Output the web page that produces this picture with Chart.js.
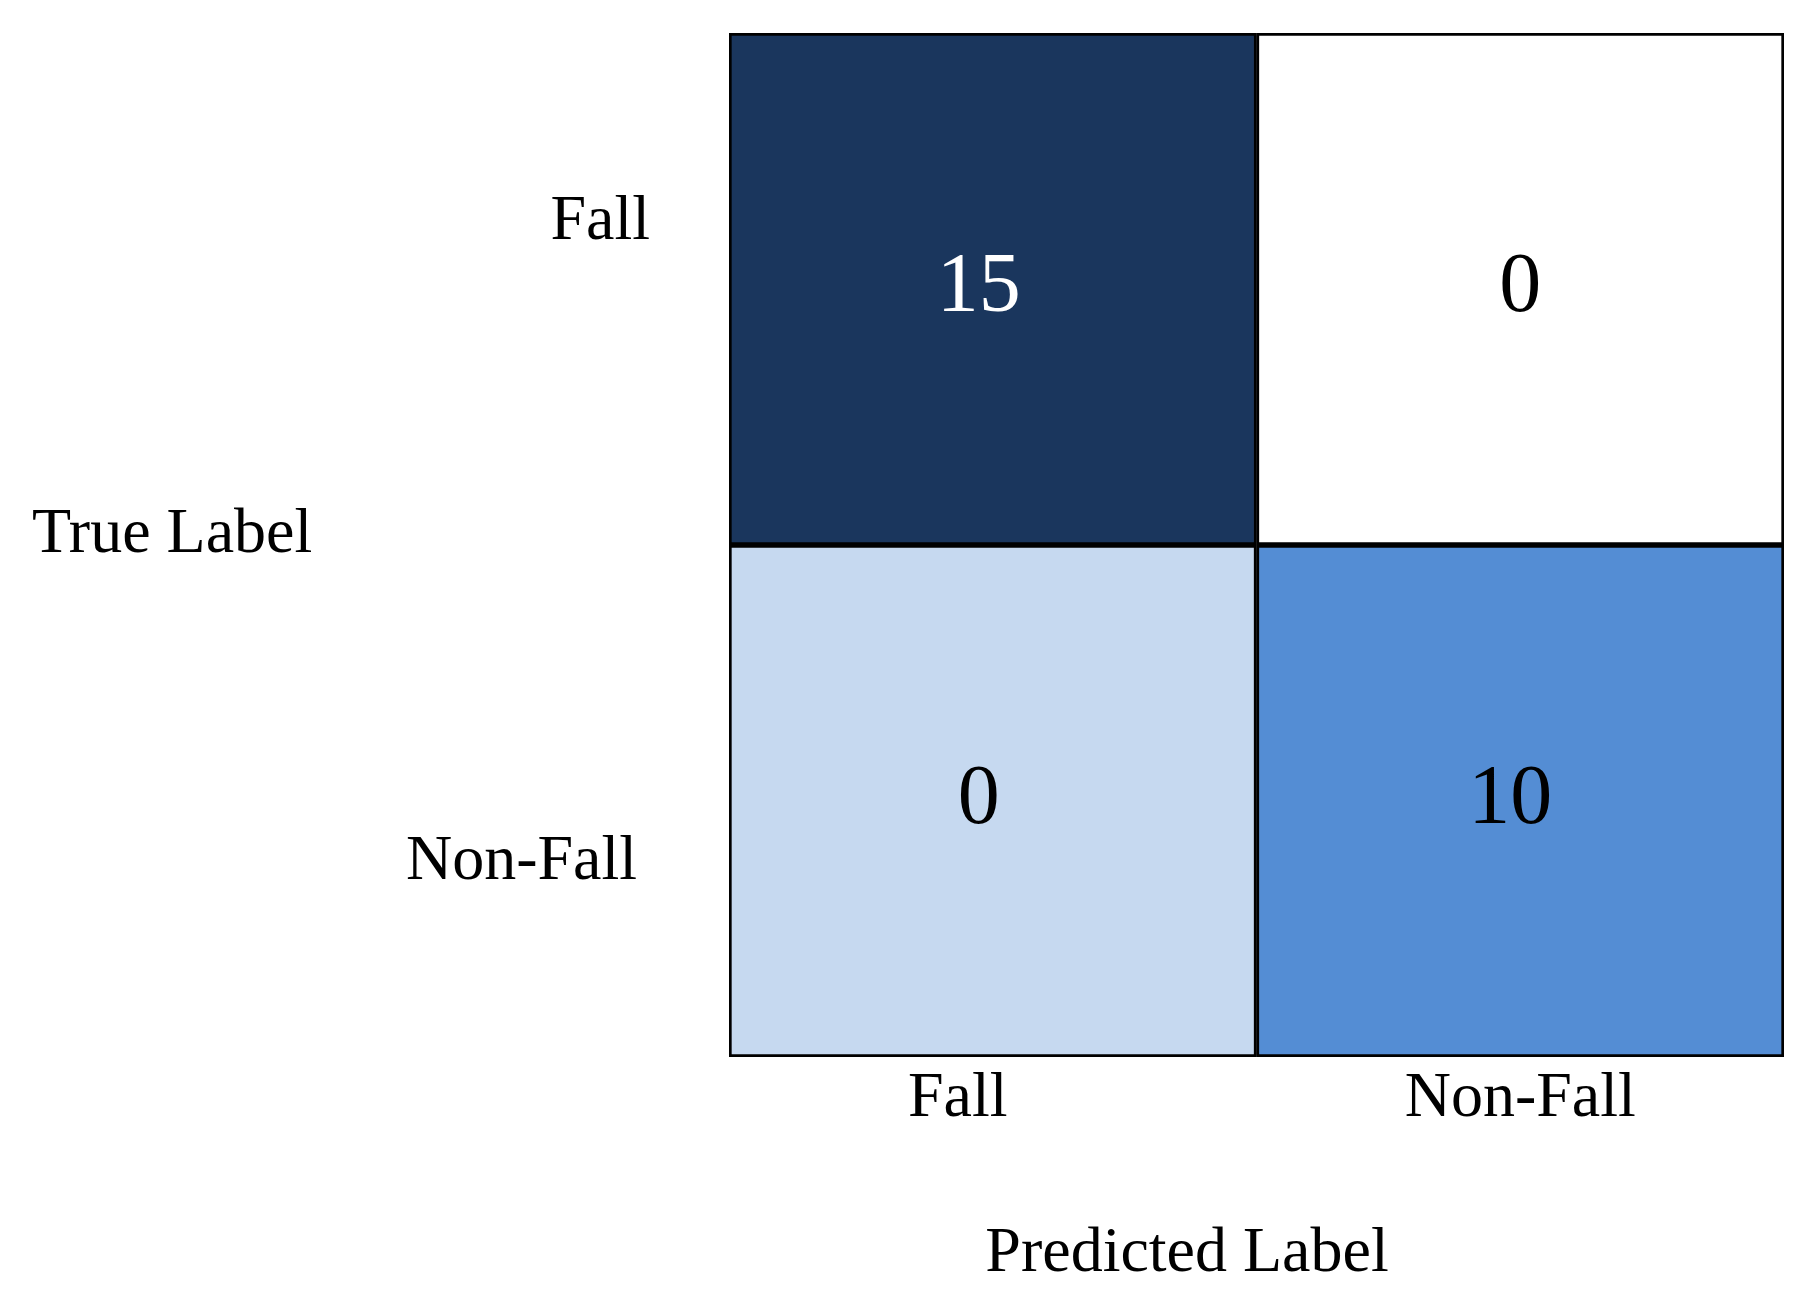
<!DOCTYPE html>
<html><head><meta charset="utf-8">
<script src="https://cdn.jsdelivr.net/npm/chart.js@4/dist/chart.umd.min.js"></script>
<style>html,body{margin:0;background:#fff}canvas{display:block}</style>
</head><body>
<div style="width:1812px;height:1314px"><canvas id="c"></canvas></div>
<script>
const predictedLabels = ['Fall', 'Non-Fall'];
const trueLabels = ['Fall', 'Non-Fall'];
const rowFall = [15, 0];     // true Fall
const rowNonFall = [0, 10];  // true Non-Fall
const cellColors = {15: '#1a365d', 0: null, 10: '#548dd4'};
const rowFallColors = ['#1a365d', '#ffffff'];
const rowNonFallColors = ['#c6d9f0', '#548dd4'];

const font = '"Liberation Serif","Times New Roman",serif';
const textPlugin = {
  id: 'txt',
  afterDraw(chart) {
    const ctx = chart.ctx, x = chart.scales.x, y = chart.scales.y, a = chart.chartArea;
    ctx.save();
    ctx.textBaseline = 'middle';
    // cell values
    ctx.font = '84px ' + font;
    ctx.textAlign = 'center';
    predictedLabels.forEach((p, i) => {
      const cx = x.getPixelForValue(i);
      ctx.fillStyle = '#ffffff';
      ctx.fillText(String(rowFall[i]), cx - (i===0?14:0), y.getPixelForValue(1.5));
      ctx.fillStyle = '#000000';
      ctx.fillText(String(rowNonFall[i]), cx - (i===0?14:10), y.getPixelForValue(0.5));
      if (i === 1) { ctx.fillStyle = '#000'; }
    });
    // redraw the 0 in white cell as black
    ctx.fillStyle = '#ffffff';
    ctx.fillRect(x.getPixelForValue(1) - 60, y.getPixelForValue(1.5) - 60, 120, 120);
    ctx.fillStyle = '#000000';
    ctx.fillText(String(rowFall[1]), x.getPixelForValue(1), y.getPixelForValue(1.5));
    // x tick labels
    ctx.font = '64px ' + font;
    predictedLabels.forEach((p, i) => {
      ctx.fillText(p, x.getPixelForValue(i) - (i===0?35:0), a.bottom + 42);
    });
    // y tick labels
    ctx.textAlign = 'right';
    ctx.fillText(trueLabels[0], a.left - 79, y.getPixelForValue(1.63));
    ctx.fillText(trueLabels[1], a.left - 92, y.getPixelForValue(0.38));
    // axis titles
    ctx.textAlign = 'left';
    ctx.fillText('True Label', 32, y.getPixelForValue(1.02));
    ctx.textAlign = 'center';
    ctx.fillText('Predicted Label', 1187, a.bottom + 197);
    ctx.restore();
  }
};

new Chart(document.getElementById('c'), {
  type: 'bar',
  data: {
    labels: predictedLabels,
    datasets: [
      { label: 'Fall', data: rowFall.map(() => [1, 2]), backgroundColor: rowFallColors,
        borderColor: '#000', borderWidth: 3, borderSkipped: false, grouped: false },
      { label: 'Non-Fall', data: rowNonFall.map(() => [0, 1]), backgroundColor: rowNonFallColors,
        borderColor: '#000', borderWidth: 3, borderSkipped: false, grouped: false }
    ]
  },
  options: {
    responsive: true, maintainAspectRatio: false, animation: false,
    devicePixelRatio: 1,
    layout: { padding: { left: 729, right: 28, top: 33, bottom: 257 } },
    datasets: { bar: { barPercentage: 1, categoryPercentage: 1 } },
    plugins: { legend: { display: false }, tooltip: { enabled: false } },
    scales: {
      x: { display: false },
      y: { display: false, min: 0, max: 2 }
    }
  },
  plugins: [textPlugin]
});
</script>
</body></html>
